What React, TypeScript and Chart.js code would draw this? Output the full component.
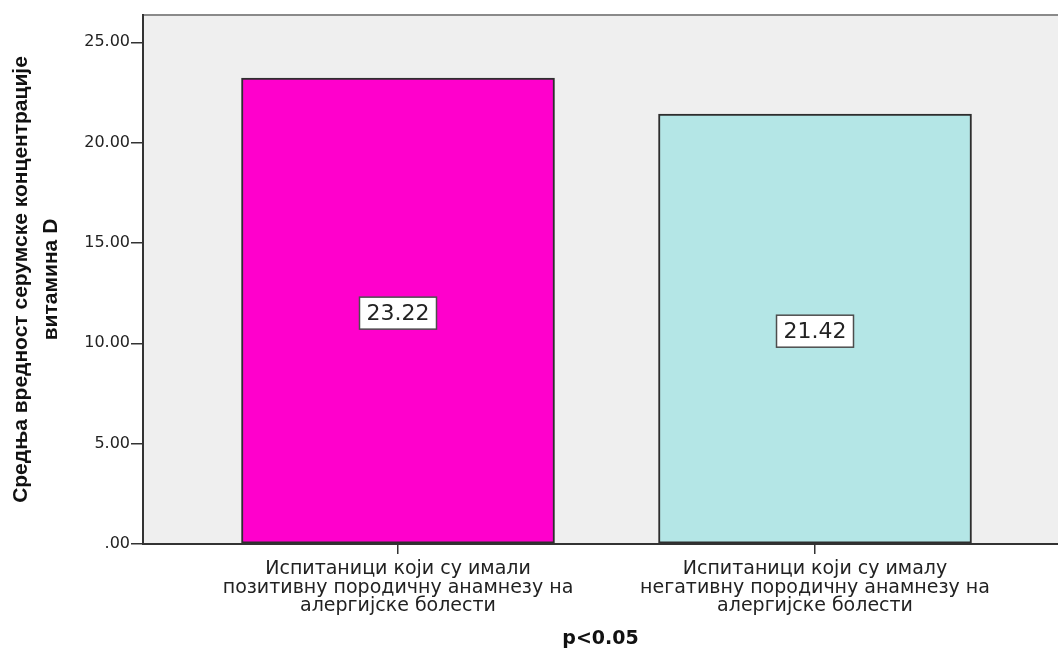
import React, { useEffect, useRef } from "react";
import { Chart, registerables } from "chart.js";

Chart.register(...registerables);

const categories: string[][] = [
  ["Испитаници који су имали", "позитивну породичну анамнезу на", "алергијске болести"],
  ["Испитаници који су ималу", "негативну породичну анамнезу на", "алергијске болести"],
];
const meanValues = [23.22, 21.42];
const barColors = ["#ff00cc", "#b4e6e6"];
const yTicks = [0, 5, 10, 15, 20, 25];
const yAxisTitle = ["Средња вредност серумске концентрације", "витамина D"];
const xAxisTitle = "p<0.05";

const fmt = (v: number) => (v === 0 ? ".00" : v.toFixed(2));

const backgroundPlugin = {
  id: "plotBackground",
  beforeDraw(chart: any) {
    const { ctx, chartArea } = chart;
    ctx.save();
    ctx.fillStyle = "#efefef";
    ctx.fillRect(chartArea.left, chartArea.top, chartArea.right - chartArea.left, chartArea.bottom - chartArea.top);
    ctx.strokeStyle = "#8a8a8a";
    ctx.lineWidth = 2;
    ctx.beginPath();
    ctx.moveTo(chartArea.left, chartArea.top);
    ctx.lineTo(chartArea.right, chartArea.top);
    ctx.stroke();
    ctx.restore();
  },
};

const valueBoxPlugin = {
  id: "valueBoxes",
  afterDatasetsDraw(chart: any) {
    const ctx = chart.ctx;
    const meta = chart.getDatasetMeta(0);
    meta.data.forEach((bar: any, i: number) => {
      const { x, y, base } = bar.getProps(["x", "y", "base"], true);
      const cy = (y + base) / 2 + 2.5;
      const text = meanValues[i].toFixed(2);
      ctx.save();
      ctx.font = '22px "DejaVu Sans"';
      const w = ctx.measureText(text).width + 14;
      const h = 32;
      ctx.fillStyle = "#ffffff";
      ctx.fillRect(x - w / 2, cy - h / 2, w, h);
      ctx.strokeStyle = "#4d4d4d";
      ctx.lineWidth = 1.5;
      ctx.strokeRect(x - w / 2, cy - h / 2, w, h);
      ctx.fillStyle = "#222222";
      ctx.textAlign = "center";
      ctx.textBaseline = "middle";
      ctx.fillText(text, x, cy + 1);
      ctx.restore();
    });
  },
};

export default function App() {
  const canvasRef = useRef<HTMLCanvasElement | null>(null);

  useEffect(() => {
    if (!canvasRef.current) return;
    const chart = new Chart(canvasRef.current, {
      type: "bar",
      data: {
        datasets: [
          {
            data: meanValues.map((v, i) => ({ x: i, y: v })),
            backgroundColor: barColors,
            borderColor: "#2e2e2e",
            borderWidth: 2,
            borderSkipped: false,
            barThickness: 313,
          },
        ],
      },
      options: {
        animation: false,
        responsive: false,
        layout: { padding: { top: 15, left: 0, right: 0, bottom: 0 } },
        plugins: {
          legend: { display: false },
          tooltip: { enabled: false },
        },
        scales: {
          x: {
            type: "linear",
            min: -0.6115,
            max: 1.5827,
            offset: false,
            grid: {
              offset: false,
              drawOnChartArea: false,
              drawTicks: true,
              tickLength: 10,
              color: "#333333",
              lineWidth: 1.5,
            },
            border: { display: true, color: "#333333", width: 2 },
            afterBuildTicks: (axis: any) => {
              axis.ticks = categories.map((_, i) => ({ value: i }));
            },
            afterFit: (axis: any) => {
              axis.height = 106;
            },
            ticks: {
              autoSkip: false,
              maxRotation: 0,
              minRotation: 0,
              padding: 6,
              color: "#222222",
              font: { family: '"DejaVu Sans", sans-serif', size: 19, lineHeight: 0.97 },
              callback: (v: any) => categories[Math.round(Number(v))] ?? "",
            },
            title: {
              display: true,
              text: xAxisTitle,
              color: "#111111",
              font: { family: '"DejaVu Sans", sans-serif', size: 19, weight: "bold", lineHeight: 1.2 },
              padding: { top: 0, bottom: 0 },
            },
          },
          y: {
            type: "linear",
            min: 0,
            max: 26.36,
            grid: {
              drawOnChartArea: false,
              drawTicks: true,
              tickLength: 12,
              color: "#333333",
              lineWidth: 1.5,
            },
            border: { display: true, color: "#333333", width: 2 },
            afterBuildTicks: (axis: any) => {
              axis.ticks = yTicks.map((v) => ({ value: v }));
            },
            afterFit: (axis: any) => {
              axis.width = 143;
            },
            ticks: {
              padding: 1,
              color: "#222222",
              font: { family: '"DejaVu Sans", sans-serif', size: 16 },
              callback: (v: any) => fmt(Number(v)),
            },
            title: {
              display: true,
              text: yAxisTitle,
              color: "#111111",
              font: { family: '"Liberation Sans", Arial, sans-serif', size: 21, weight: "bold", lineHeight: 1.4 },
              padding: { top: 7, bottom: 0 },
            },
          },
        },
      },
      plugins: [backgroundPlugin, valueBoxPlugin],
    } as any);
    return () => chart.destroy();
  }, []);

  return (
    <canvas
      ref={canvasRef}
      width={1058}
      height={650}
      style={{ position: "fixed", left: 0, top: 0, width: 1058, height: 650, display: "block" }}
    />
  );
}
